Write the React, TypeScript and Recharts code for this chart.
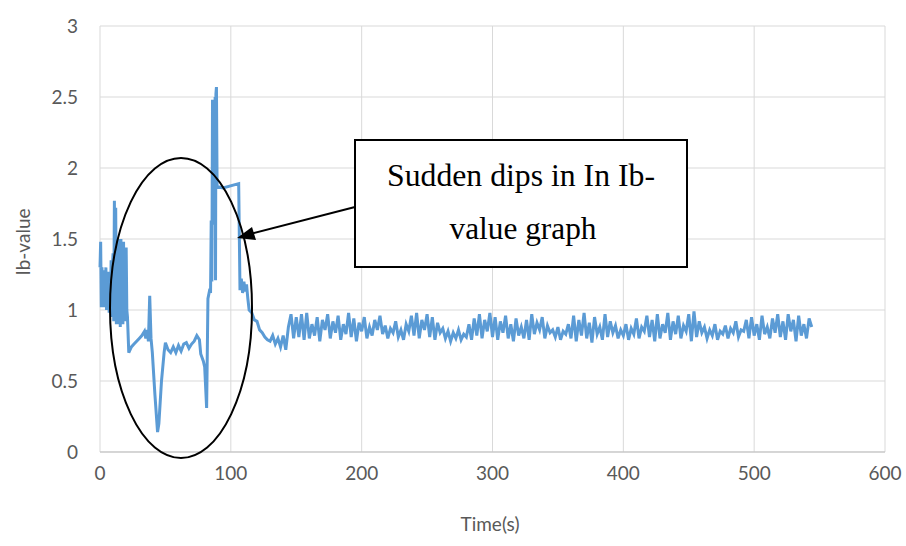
import React from 'react'
import { LineChart, Line, XAxis, YAxis, CartesianGrid } from 'recharts'

// early, irregular part of the record (time in s, Ib-value)
const earlyTimes = [
  0, 0.5, 1, 1.5, 2, 2.5, 3, 3.5, 4, 4.5, 5, 5.5, 6, 6.5, 7, 7.5, 8, 8.5, 9, 9.5,
  10, 10.5, 11, 11.5, 12, 12.5, 13, 13.5, 14, 14.5, 15, 15.5, 16, 16.5, 17, 17.5, 18, 18.5,
  19, 19.5, 20, 20.5, 21, 22,
  24, 26, 28, 30, 32, 34, 35, 36, 37, 38, 39, 40, 42, 44, 45, 47, 49, 50, 52, 54, 56,
  58, 60, 62, 64, 66, 68, 70, 72, 74, 76, 77, 79, 80, 81.5, 82.5,
  84, 84.5, 85, 85.5, 86, 86.3, 86.6, 87, 87.3, 87.6, 88, 88.3, 88.6, 89, 89.5,
  94, 106, 107, 108, 109, 110, 111, 112, 113, 114, 116, 118,
]
const earlyValues = [
  1.3, 1.48, 1.02, 1.3, 1.05, 1.28, 1.02, 1.25, 1.08, 1.3, 1.0, 1.22, 1.05, 1.27, 0.98, 1.2,
  1.02, 1.35, 0.95, 1.3, 1.4, 0.92, 1.77, 1.0, 1.72, 0.9, 1.45, 0.95, 1.5, 0.9, 1.42, 0.88,
  1.5, 0.92, 1.45, 0.9, 1.48, 0.95, 1.4, 0.92, 1.44, 1.0, 0.95, 0.7,
  0.74, 0.76, 0.78, 0.8, 0.82, 0.85, 0.8, 0.86, 0.78, 1.1, 0.8, 0.7, 0.4, 0.14, 0.2, 0.5,
  0.7, 0.77, 0.72, 0.7, 0.74, 0.7, 0.75, 0.71, 0.76, 0.77, 0.73, 0.76, 0.78, 0.82, 0.79,
  0.69, 0.64, 0.6, 0.31, 1.08,
  1.15, 1.12, 1.63, 1.2, 2.48, 1.6, 2.45, 1.7, 2.4, 1.65, 2.5, 1.21, 2.52, 2.57, 1.87,
  1.86, 1.89, 1.14, 1.22, 1.12, 1.2, 1.13, 1.18, 1.08, 1.0, 0.98, 0.93,
]

// steady part, one reading every 2 s from 120 s
const steadyStart = 120
const steadyStep = 2
const steadyValues = [
  0.92, 0.86, 0.84, 0.81, 0.79, 0.78, 0.82, 0.76, 0.8, 0.74,
  0.82, 0.72, 0.88, 0.97, 0.8, 0.95, 0.81, 0.97, 0.79, 0.98,
  0.8, 0.9, 0.82, 0.95, 0.78, 0.93, 0.86, 0.97, 0.8, 0.92,
  0.84, 0.96, 0.79, 0.9, 0.83, 0.98, 0.81, 0.94, 0.78, 0.91,
  0.85, 0.95, 0.8, 0.88, 0.82, 0.93, 0.86, 0.96, 0.83, 0.89,
  0.8, 0.87, 0.84, 0.92, 0.81, 0.86, 0.79, 0.9, 0.85, 0.96,
  0.82, 0.98, 0.8, 0.93, 0.86, 0.97, 0.81, 0.95, 0.79, 0.91,
  0.84, 0.87, 0.8, 0.85, 0.78, 0.84, 0.8, 0.86, 0.79, 0.83,
  0.81, 0.9, 0.79, 0.94, 0.82, 0.97, 0.8, 0.93, 0.85, 0.98,
  0.81, 0.95, 0.79, 0.92, 0.84, 0.96, 0.8, 0.9, 0.78, 0.94,
  0.82, 0.88, 0.8, 0.93, 0.79, 0.97, 0.83, 0.91, 0.86, 0.95,
  0.8, 0.89, 0.84, 0.86, 0.81, 0.88, 0.79, 0.85, 0.83, 0.9,
  0.8, 0.96, 0.78, 0.93, 0.82, 0.98, 0.8, 0.91, 0.77, 0.95,
  0.83, 0.88, 0.79, 0.97, 0.81, 0.92, 0.84, 0.89, 0.8, 0.86,
  0.82, 0.9, 0.79, 0.87, 0.83, 0.94, 0.8, 0.88, 0.85, 0.96,
  0.81, 0.93, 0.78, 0.97, 0.8, 0.9, 0.84, 0.98, 0.79, 0.92,
  0.83, 0.96, 0.8, 0.89, 0.85, 0.97, 0.78, 0.99, 0.81, 0.92,
  0.84, 0.88, 0.8, 0.86, 0.82, 0.9, 0.79, 0.85, 0.83, 0.89,
  0.8, 0.87, 0.84, 0.92, 0.81, 0.86, 0.85, 0.93, 0.8, 0.95,
  0.82, 0.9, 0.79, 0.96, 0.83, 0.88, 0.8, 0.94, 0.84, 0.97,
  0.81, 0.92, 0.79, 0.97, 0.85, 0.93, 0.78, 0.96, 0.82, 0.9,
  0.8, 0.94, 0.88,
]

const xTicks = [0, 100, 200, 300, 400, 500, 600]
const yTicks = [0, 0.5, 1, 1.5, 2, 2.5, 3]

const data = [
  ...earlyTimes.map((t, i) => ({ t, v: earlyValues[i] })),
  ...steadyValues.map((v, i) => ({ t: steadyStart + i * steadyStep, v })),
]

const axisFont = 'Lato, sans-serif'
const tickStyle = { fill: '#595959', fontSize: 19, fontFamily: axisFont }

export default function App() {
  return (
    <div style={{ position: 'absolute', left: 0, top: 0, width: 906, height: 546, background: '#fff' }}>
      <LineChart width={906} height={546} data={data} margin={{ top: 26, right: 21, bottom: 64, left: 40 }}>
        <CartesianGrid stroke="#d9d9d9" strokeWidth={1} />
        <XAxis
          dataKey="t"
          type="number"
          domain={[0, 600]}
          ticks={xTicks}
          tick={tickStyle}
          tickLine={false}
          tickSize={0}
          tickMargin={15}
          height={30}
          axisLine={{ stroke: '#bfbfbf' }}
        />
        <YAxis
          type="number"
          domain={[0, 3]}
          ticks={yTicks}
          tick={tickStyle}
          tickLine={false}
          axisLine={false}
          tickSize={0}
          tickMargin={22}
          width={60}
        />
        <Line
          type="linear"
          dataKey="v"
          stroke="#5b9bd5"
          strokeWidth={3}
          dot={false}
          isAnimationActive={false}
        />
      </LineChart>
      <svg width={906} height={546} style={{ position: 'absolute', left: 0, top: 0, pointerEvents: 'none' }}>
        <text x={25} y={242} transform="rotate(-90 25 242)" textAnchor="middle" dominantBaseline="middle"
          fill="#595959" fontSize={19} fontFamily={axisFont}>Ib-value</text>
        <text x={490} y={531} textAnchor="middle" fill="#595959" fontSize={19} fontFamily={axisFont}>Time(s)</text>
        <ellipse cx={181} cy={308} rx={71} ry={150} fill="none" stroke="#000" strokeWidth={2} />
        <rect x={355} y={140} width={332} height={127} fill="#fff" stroke="#000" strokeWidth={2} />
        <text x={521} y={186} textAnchor="middle" fontSize={31} fontFamily="'Liberation Serif', serif" fill="#000"
          textLength={268} lengthAdjust="spacingAndGlyphs">Sudden dips in In Ib-</text>
        <text x={523} y={239} textAnchor="middle" fontSize={31} fontFamily="'Liberation Serif', serif" fill="#000"
          textLength={147} lengthAdjust="spacingAndGlyphs">value graph</text>
        <line x1={355} y1={207} x2={250} y2={234} stroke="#000" strokeWidth={2} />
        <polygon points="237,238 252,227 256,240" fill="#000" />
      </svg>
    </div>
  )
}
